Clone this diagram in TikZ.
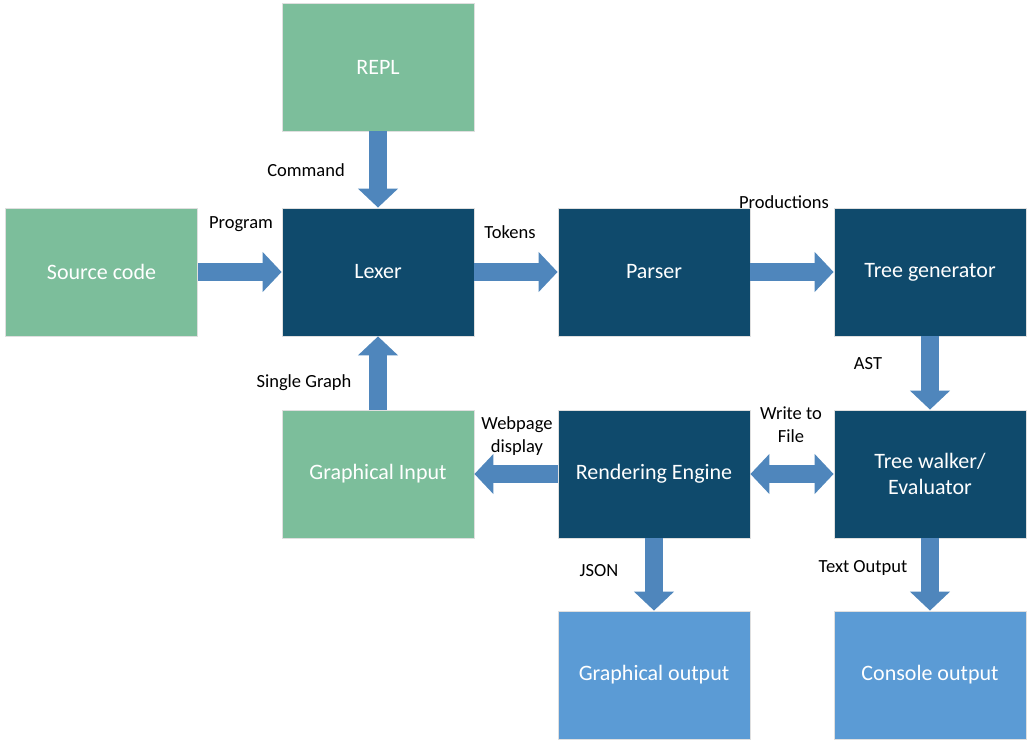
\documentclass[tikz,border=0pt]{standalone}
\usepackage{fontspec}
\setmainfont{Carlito}
\usetikzlibrary{arrows.meta}
\definecolor{boxgreen}{HTML}{7CBE9B}
\definecolor{boxdark}{HTML}{0F4A6C}
\definecolor{boxlight}{HTML}{5B9BD5}
\definecolor{arrowblue}{HTML}{4F86BC}
\tikzset{
  box/.style={minimum width=192pt, minimum height=128pt, inner sep=0pt, text=white,
    font=\fontsize{22}{26}\selectfont, align=center, draw=gray!25, line width=0.8pt},
  gbox/.style={box, fill=boxgreen},
  dbox/.style={box, fill=boxdark},
  lbox/.style={box, fill=boxlight},
  flow/.style={draw=arrowblue, line width=18pt,
    -{Triangle[length=19pt, width=39pt, fill=arrowblue]}},
  flow2/.style={draw=arrowblue, line width=18pt,
    {Triangle[length=19pt, width=39pt, fill=arrowblue]}-{Triangle[length=19pt, width=39pt, fill=arrowblue]}},
  lab/.style={font=\fontsize{18.5}{23}\selectfont, align=center, text=black, inner sep=0pt}
}
\begin{document}
\begin{tikzpicture}[x=1pt,y=-1pt]
\useasboundingbox[fill=white] (0,0) rectangle (1034,749);
\node[gbox] (repl) at (378,67) {REPL};
\node[gbox] (src) at (101.5,272) {Source code};
\node[dbox] (lexer) at (378,272) {Lexer};
\node[dbox] (parser) at (654,272) {Parser};
\node[dbox] (treegen) at (930,272) {Tree generator};
\node[gbox] (ginput) at (378,474) {Graphical Input};
\node[dbox] (render) at (654,474) {Rendering Engine};
\node[dbox] (walker) at (930,474) {Tree walker/\\Evaluator};
\node[lbox] (goutput) at (654,675) {Graphical output};
\node[lbox] (console) at (930,675) {Console output};

\draw[flow] (repl.south) -- (lexer.north);
\draw[flow] (src.east) -- (lexer.west);
\draw[flow] (lexer.east) -- (parser.west);
\draw[flow] (parser.east) -- (treegen.west);
\draw[flow] (treegen.south) -- (walker.north);
\draw[flow] (ginput.north) -- (lexer.south);
\draw[flow] (render.west) -- (ginput.east);
\draw[flow2] (render.east) -- (walker.west);
\draw[flow] (render.south) -- (goutput.north);
\draw[flow] (walker.south) -- (console.north);

\node[lab] (lcommand) at (306,170) {Command};
\node[lab] (lprogram) at (241,224) {Program};
\node[lab] (ltokens) at (510,232) {Tokens};
\node[lab] (lprod) at (784,202) {Productions};
\node[lab] (last) at (868,364) {AST};
\node[lab] (lsingle) at (304,383) {Single Graph};
\node[lab] (lweb) at (517,436) {Webpage\\display};
\node[lab] (lwrite) at (791,425) {Write to\\File};
\node[lab] (ljson) at (599,571) {JSON};
\node[lab] (ltext) at (863,568) {Text Output};
\end{tikzpicture}
\end{document}
